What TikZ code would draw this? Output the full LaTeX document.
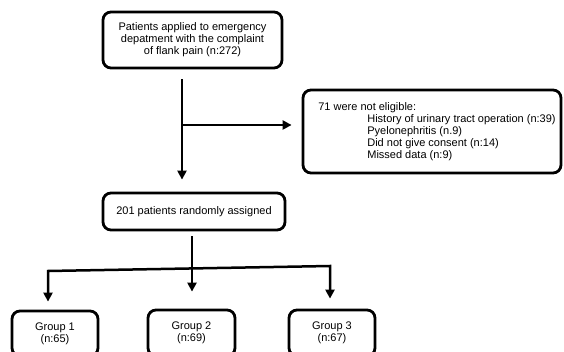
\documentclass[tikz,border=0pt]{standalone}
\usepackage{fontspec}
\setmainfont{Liberation Sans}
\usetikzlibrary{arrows.meta}
\begin{document}
\begin{tikzpicture}[x=1pt,y=-1pt,
  box/.style={draw, line width=2.8pt, rounded corners=8pt, align=center,
    font=\fontsize{11}{12}\selectfont, inner sep=0pt},
  conn/.style={line width=2.5pt, -{Triangle[length=9pt,width=9pt]}},
  dconn/.style={line width=2.5pt, {Triangle[length=9pt,width=9pt]}-{Triangle[length=9pt,width=9pt]}, line join=miter}]
\clip (0,0) rectangle (564,352);
\node[box, minimum width=179pt, minimum height=56pt] (top) at (192.5,40)
  {Patients applied to emergency\\depatment with the complaint\\of flank pain (n:272)};
\node[box, minimum width=258pt, minimum height=83pt, align=left] (excl) at (432,131.5)
  {\hspace*{10pt}71 were not eligible:\\
   \hspace*{59pt}History of urinary tract operation (n:39)\\
   \hspace*{59pt}Pyelonephritis (n.9)\\
   \hspace*{59pt}Did not give consent (n:14)\\
   \hspace*{59pt}Missed data (n:9)};
\node[box, minimum width=182pt, minimum height=37pt] (mid) at (194,211.5)
  {201 patients randomly assigned};
\node[box, minimum width=86pt, minimum height=45pt] (g1) at (55,333.5) {Group 1\\(n:65)};
\node[box, minimum width=87pt, minimum height=46pt] (g2) at (191.5,333) {Group 2\\(n:69)};
\node[box, minimum width=86pt, minimum height=46pt] (g3) at (332,333) {Group 3\\(n:67)};
\coordinate (j1) at (182,125);
\coordinate (j2) at (192,268);
\coordinate (jl) at (48,271);
\coordinate (jr) at (330,266);
\draw[conn, shorten <=10pt, shorten >=12pt] (top.south -| j1) -- (mid.north -| j1);
\draw[conn, shorten >=10pt] (j1) -- (excl.west |- j1);
\draw[conn, shorten <=5pt, shorten >=17pt] (mid.south -| j2) -- (g2.north -| j2);
\draw[dconn, shorten <=10pt, shorten >=8pt] (g3.north -| jr) -- (jr) -- (jl) -- (g1.north -| jl);
\end{tikzpicture}
\end{document}
